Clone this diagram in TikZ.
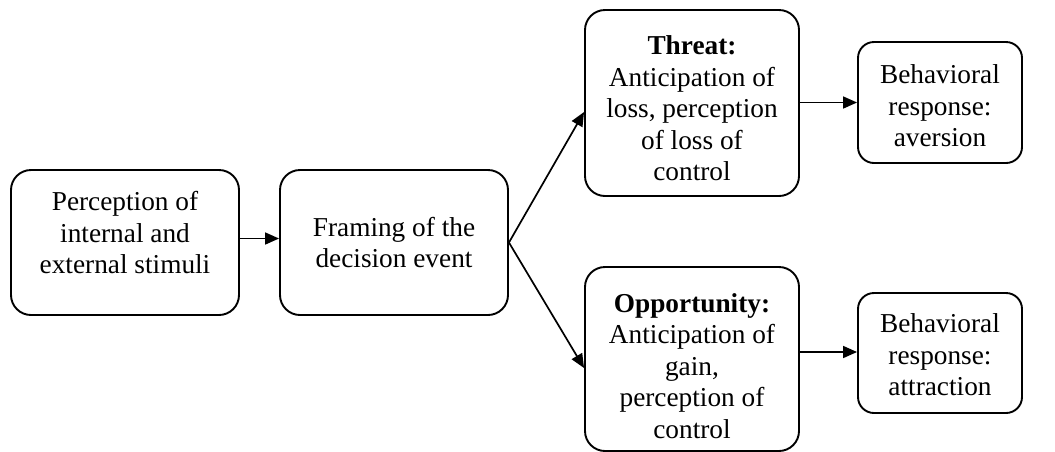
\documentclass[tikz,border=0pt]{standalone}
\usepackage{fontspec}
\setmainfont{Liberation Serif}
\usetikzlibrary{arrows.meta}
\begin{document}
\begin{tikzpicture}[x=1pt,y=1pt,
  box/.style={draw, line width=1.9pt, rounded corners=20pt, inner sep=0pt},
  smallbox/.style={box, rounded corners=16pt},
  txt/.style={align=center, inner sep=0pt,
    font=\fontsize{27.3}{31.5}\selectfont},
  link/.style={line width=1.7pt, -{Triangle[length=14pt,width=12pt]}}]
  \useasboundingbox (0,0) rectangle (1055,-451);
  % boxes
  \node[box, minimum width=228pt, minimum height=145pt] (stim) at (125,-242.5) {};
  \node[box, minimum width=228pt, minimum height=145pt] (frame) at (394,-242.5) {};
  \node[box, minimum width=214pt, minimum height=186pt] (threat) at (692,-103) {};
  \node[box, minimum width=214pt, minimum height=184pt] (opp) at (692,-359) {};
  \node[smallbox, minimum width=164pt, minimum height=121pt] (aver) at (940,-102.5) {};
  \node[smallbox, minimum width=164pt, minimum height=120pt] (attr) at (940,-353) {};
  % box texts
  \node[txt] (stimtext) at (125,-233) {Perception of\\internal and\\external stimuli};
  \node[txt] (frametext) at (394,-242.5) {Framing of the\\decision event};
  \begin{scope}
    \clip (586,-12) rectangle (798,-181);
    \node[txt] (threattext) at (692,-108.5)
      {\textbf{Threat:}\\Anticipation of\\loss, perception\\of loss of\\control};
  \end{scope}
  \node[txt] (opptext) at (692,-366)
    {\textbf{Opportunity:}\\Anticipation of\\gain,\\perception of\\control};
  \node[txt] (avertext) at (940,-106) {Behavioral\\response:\\aversion};
  \node[txt] (attrtext) at (940,-355) {Behavioral\\response:\\attraction};
  % connectors
  \coordinate (stimout) at ([yshift=4pt]stim.east);
  \coordinate (attrin) at ([yshift=1pt]attr.west);
  \draw[link] (stimout) -- (stimout -| frame.west);
  \draw[link] (frame.east) -- ([yshift=-9pt]threat.west);
  \draw[link] (frame.east) -- ([yshift=-9pt]opp.west);
  \draw[link] (threat.east |- aver) -- (aver.west);
  \draw[link] (opp.east |- attrin) -- (attrin);
\end{tikzpicture}
\end{document}
